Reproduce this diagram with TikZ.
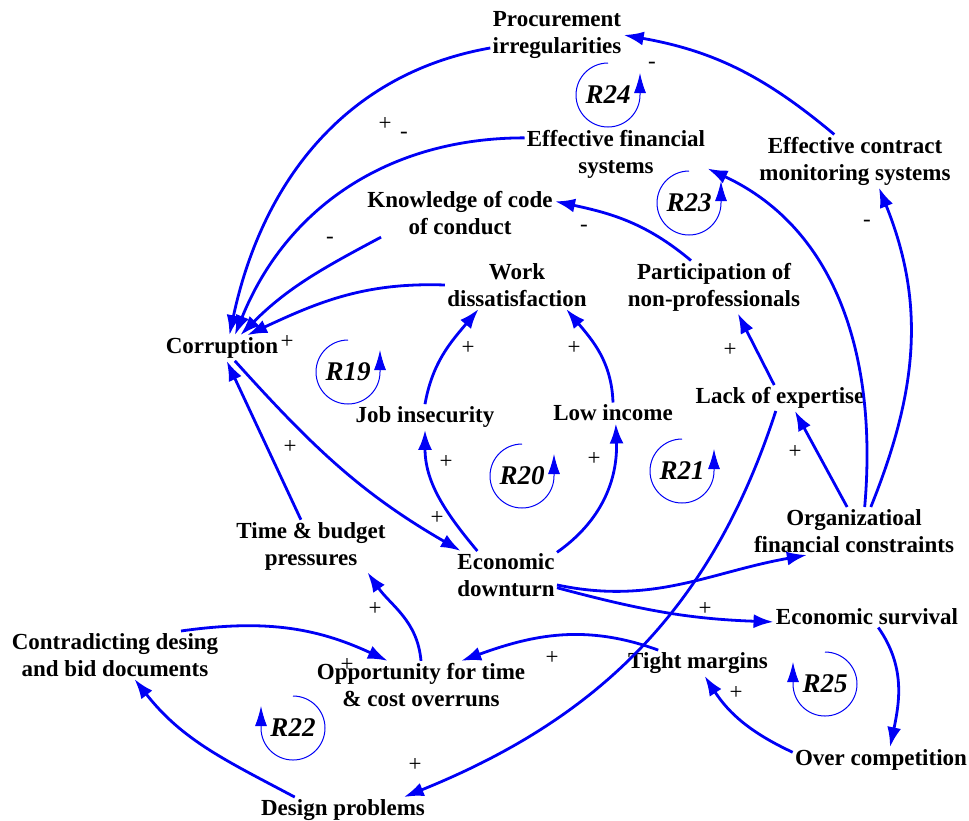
\documentclass[tikz,border=0pt]{standalone}
\usepackage{fontspec}
\setmainfont{Liberation Serif}
\usetikzlibrary{arrows.meta}
\definecolor{cldBlue}{RGB}{0,0,245}
\tikzset{
    cldVar/.style={align=center, inner sep=1pt, font=\fontsize{11.5}{13.5}\selectfont\bfseries},
    cldSign/.style={inner sep=0pt, font=\fontsize{11.5}{13.5}\selectfont},
    cldEdge/.style={-{Latex[length=10pt,width=7pt]}, draw=cldBlue, line width=1.4pt},
    cldLoop/.style={-{Latex[length=10pt,width=6pt]}, draw=cldBlue, line width=0.5pt},
    loopLabel/.style={inner sep=0pt, font=\fontsize{13.5}{16}\selectfont\bfseries\itshape},
}
\newcommand{\drawLink}[3][]{
    \draw[cldEdge, #1] (#2) to (#3);
}
\newcommand{\drawLoopCCW}[3]{
    % label in the middle, arrow on the right side
    \node[loopLabel] (#1) at (#2) {#3};
    \draw[cldLoop] (#1.center) ++(90:32) arc[start angle=90, end angle=360, radius=32] -- ++(0,22);
}
\newcommand{\drawLoopCW}[3]{
    % label in the middle, arrow on the left side
    \node[loopLabel] (#1) at (#2) {#3};
    \draw[cldLoop] (#1.center) ++(90:32) arc[start angle=90, end angle=-180, radius=32] -- ++(0,22);
}
\begin{document}
\begin{tikzpicture}[x=0.5pt, y=0.5pt]
        \useasboundingbox (0,0) rectangle (969,-820);

        \node[cldVar] (proc) at (557,-35) {Procurement\\irregularities};
        \node[cldVar] (effFin) at (616,-154) {Effective financial\\systems};
        \node[cldVar] (effCon) at (855,-161) {Effective contract\\monitoring systems};
        \node[cldVar] (know) at (460,-213) {Knowledge of code\\of conduct};
        \node[cldVar] (work) at (517,-285) {Work\\dissatisfaction};
        \node[cldVar] (part) at (714,-287) {Participation of\\non-professionals};
        \node[cldVar] (corr) at (222,-348) {Corruption};
        \node[cldVar] (job) at (425,-417) {Job insecurity};
        \node[cldVar] (low) at (613,-413) {Low income};
        \node[cldVar] (lack) at (780,-398) {Lack of expertise};
        \node[cldVar] (org) at (854,-531) {Organizatioal\\financial constraints};
        \node[cldVar] (timeBud) at (311,-546) {Time \& budget\\pressures};
        \node[cldVar] (econ) at (506,-575) {Economic\\downturn};
        \node[cldVar] (surv) at (867,-617) {Economic survival};
        \node[cldVar] (contr) at (115,-655) {Contradicting desing\\and bid documents};
        \node[cldVar] (opp) at (421,-685) {Opportunity for time\\\& cost overruns};
        \node[cldVar] (tight) at (698,-663) {Tight margins};
        \node[cldVar] (over) at (881,-760) {Over competition};
        \node[cldVar] (design) at (343,-810) {Design problems};

        \drawLink[out=140, in=-10]{effCon.128}{proc.east}
        \drawLink[out=190, in=78]{proc.191}{corr.60}
        \drawLink[out=180, in=68]{effFin.170}{corr.45}
        \drawLink[out=208, in=45]{know.197}{corr.35}
        \drawLink[out=178, in=25]{work.west}{corr.27}
        \drawLink[out=140, in=-12]{part.131}{know.7}
        \drawLink[out=85, in=-25]{org.66}{effFin.-9}
        \drawLink[out=68, in=-68]{org.55}{effCon.-48}
        \drawLink{org.106}{lack.-41}
        \drawLink{lack.114}{part.-48}
        \drawLink[out=92, in=-50]{low.north}{work.-26}
        \drawLink[out=80, in=-130]{job.north}{work.-148}
        \drawLink[out=130, in=-90]{econ.140}{job.south}
        \drawLink[out=35, in=-88]{econ.24}{low.-75}
        \drawLink[out=-48, in=150]{corr.-45}{econ.152}
        \drawLink{timeBud.111}{corr.-70}
        \drawLink[out=-12, in=190]{econ.-11}{org.-153}
        \drawLink[out=-15, in=178]{econ.-14}{surv.183}
        \drawLink[out=-55, in=78]{surv.-43}{over.55}
        \drawLink[out=155, in=-57]{over.175}{tight.-63}
        \drawLink[out=160, in=20]{tight.162}{opp.31}
        \drawLink[out=8, in=155]{contr.20}{opp.144}
        \drawLink[out=95, in=-55]{opp.north}{timeBud.-25}
        \drawLink[out=152, in=-52]{design.165}{contr.-51}
        \drawLink[out=-108, in=22]{lack.-108}{design.12}

        \node[cldSign] (sgnA) at (385,-124) {+};
        \node[cldSign] (sgnB) at (404,-135) {-};
        \node[cldSign] (sgnC) at (652,-65) {-};
        \node[cldSign] (sgnD) at (330,-240) {-};
        \node[cldSign] (sgnE) at (584,-228) {-};
        \node[cldSign] (sgnF) at (867,-223) {-};
        \node[cldSign] (sgnG) at (287,-342) {+};
        \node[cldSign] (sgnH) at (468,-348) {+};
        \node[cldSign] (sgnI) at (574,-348) {+};
        \node[cldSign] (sgnJ) at (730,-350) {+};
        \node[cldSign] (sgnK) at (290,-447) {+};
        \node[cldSign] (sgnL) at (446,-462) {+};
        \node[cldSign] (sgnM) at (437,-518) {+};
        \node[cldSign] (sgnN) at (594,-459) {+};
        \node[cldSign] (sgnO) at (795,-452) {+};
        \node[cldSign] (sgnP) at (375,-609) {+};
        \node[cldSign] (sgnQ) at (705,-609) {+};
        \node[cldSign] (sgnR) at (552,-658) {+};
        \node[cldSign] (sgnS) at (347,-665) {+};
        \node[cldSign] (sgnT) at (736,-693) {+};
        \node[cldSign] (sgnU) at (415,-765) {+};

        \drawLoopCCW{loop24}{608,-95}{R24}
        \drawLoopCCW{loop23}{689,-203}{R23}
        \drawLoopCCW{loop19}{348,-372}{R19}
        \drawLoopCCW{loop20}{522,-476}{R20}
        \drawLoopCCW{loop21}{682,-471}{R21}
        \drawLoopCW{loop22}{293,-728}{R22}
        \drawLoopCW{loop25}{825,-684}{R25}

    \end{tikzpicture}
\end{document}
